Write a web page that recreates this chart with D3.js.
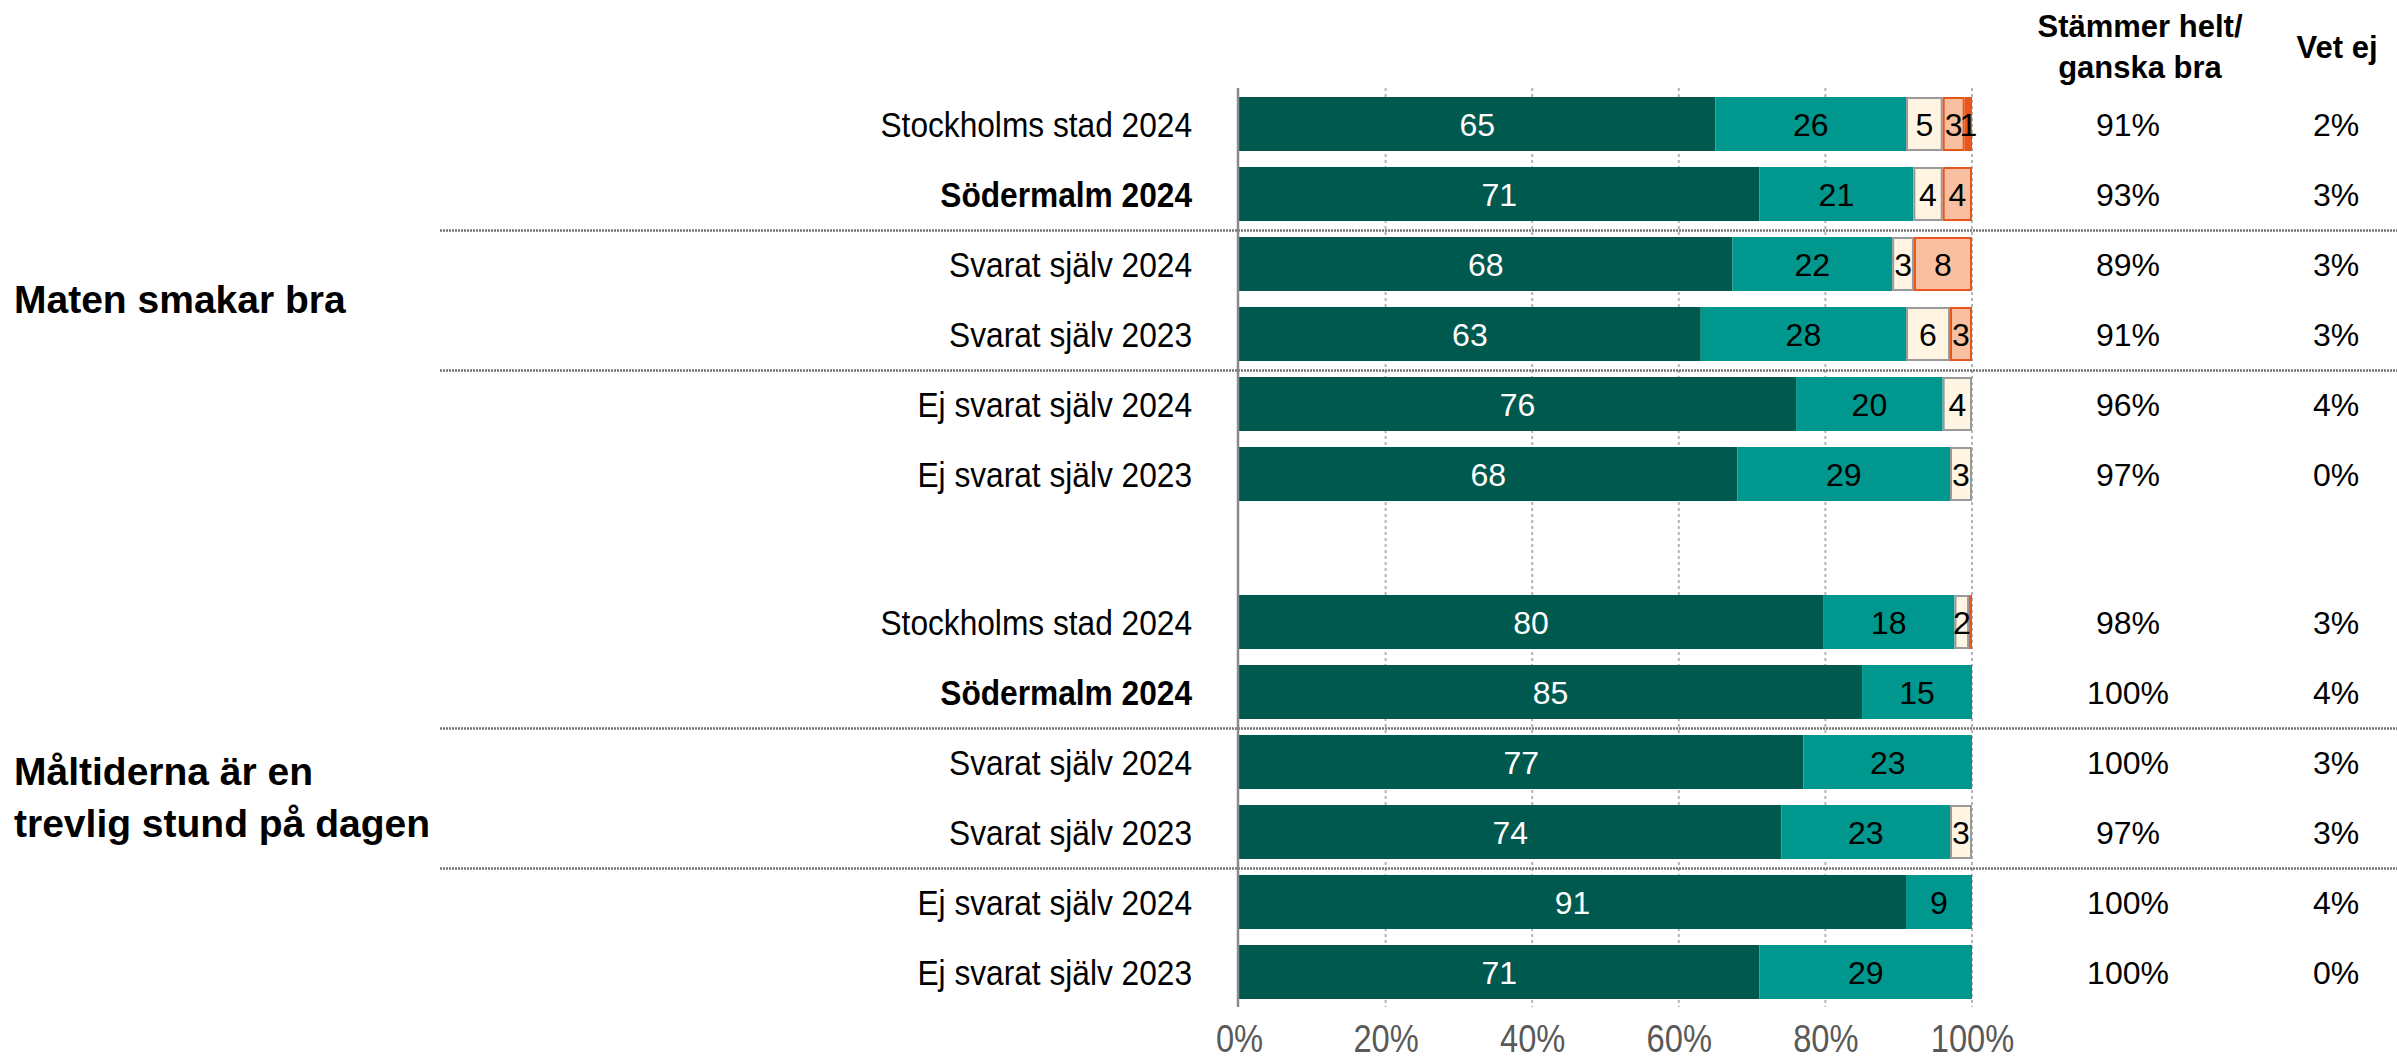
<!DOCTYPE html>
<html>
<head>
<meta charset="utf-8">
<script src="https://cdn.jsdelivr.net/npm/d3@7"></script>
<style>
  html, body { margin: 0; padding: 0; background: #fff; }
  svg { display: block; }
  text { font-family: "Liberation Sans", Arial, sans-serif; }
</style>
</head>
<body>
<svg id="chart" width="2397" height="1060"></svg>
<script>
// Survey groups (rows within each question)
const rowLabels = ["Stockholms stad 2024", "Södermalm 2024", "Svarat själv 2024",
                   "Svarat själv 2023", "Ej svarat själv 2024", "Ej svarat själv 2023"];
const boldRows = ["Södermalm 2024"];

// Questions, with their line breaks
const questions = ["Maten smakar bra", "Måltiderna är en trevlig stund på dagen"];
const questionLines = [["Maten smakar bra"], ["Måltiderna är en", "trevlig stund på dagen"]];

// Answer categories, stacked left to right
const categories = ["Stämmer helt och hållet", "Stämmer ganska bra", "Varken eller",
                    "Stämmer ganska dåligt", "Stämmer inte alls"];

// Percent per category, one value per row (question 1)
const q1Helt    = [65, 71, 68, 63, 76, 68];
const q1Ganska  = [26, 21, 22, 28, 20, 29];
const q1Varken  = [5, 4, 3, 6, 4, 3];
const q1Daligt  = [3, 4, 8, 3, 0, 0];
const q1Inte    = [1, 0, 0, 0, 0, 0];

// Percent per category, one value per row (question 2)
const q2Helt    = [80, 85, 77, 74, 91, 71];
const q2Ganska  = [18, 15, 23, 23, 9, 29];
const q2Varken  = [2, 0, 0, 3, 0, 0];
const q2Daligt  = [0, 0, 0, 0, 0, 0];
const q2Inte    = [0.4, 0, 0, 0, 0, 0];

// Summary columns
const q1Agree = ["91%", "93%", "89%", "91%", "96%", "97%"];
const q2Agree = ["98%", "100%", "100%", "97%", "100%", "100%"];
const q1VetEj = ["2%", "3%", "3%", "3%", "4%", "0%"];
const q2VetEj = ["3%", "4%", "3%", "3%", "4%", "0%"];
const columnHeaders = [["Stämmer helt/", "ganska bra"], ["Vet ej"]];

// Axis ticks
const tickValues = [0, 20, 40, 60, 80, 100];
const tickLabels = ["0%", "20%", "40%", "60%", "80%", "100%"];

const seriesByQuestion = [
  [q1Helt, q1Ganska, q1Varken, q1Daligt, q1Inte],
  [q2Helt, q2Ganska, q2Varken, q2Daligt, q2Inte]
];
const agreeByQuestion = [q1Agree, q2Agree];
const vetEjByQuestion = [q1VetEj, q2VetEj];

const fills   = ["#00594E", "#00988E", "#FFF5E2", "#F8C0A1", "#E8561C"];
const strokes = [null, null, "#9a9a9a", "#E8561C", null];
const labelColors = ["#ffffff", "#000000", "#000000", "#000000", "#000000"];

const svg = d3.select("#chart");

const x = d3.scaleLinear().domain([0, 100]).range([1239, 1972]);
const groupTops = [89, 587];
const rowStep = 70;
const yRow = groupTops.map(top =>
  d3.scaleBand().domain(rowLabels).range([top, top + rowStep * rowLabels.length])
    .paddingInner(0.2286).paddingOuter(0.1143));

const axisTop = 88, axisBottom = 1007;

// Vertical gridlines
svg.append("g").selectAll("line")
  .data(tickValues.filter(v => v > 0))
  .join("line")
  .attr("x1", d => x(d)).attr("x2", d => x(d))
  .attr("y1", axisTop).attr("y2", axisBottom)
  .attr("stroke", "#b4b4b4").attr("stroke-width", 2)
  .attr("stroke-dasharray", "3,3");

// Separators between row blocks
const sepAfter = [1, 3];
questions.forEach((q, qi) => {
  sepAfter.forEach(ri => {
    const y = groupTops[qi] + rowStep * (ri + 1) + 1.5;
    svg.append("line")
      .attr("x1", 440).attr("x2", 2397).attr("y1", y).attr("y2", y)
      .attr("stroke", "#767676").attr("stroke-width", 2.5)
      .attr("stroke-dasharray", "2,1");
  });
});

// Bars
questions.forEach((q, qi) => {
  const series = seriesByQuestion[qi];
  const yb = yRow[qi];
  rowLabels.forEach((row, ri) => {
    const vals = series.map(s => s[ri]);
    const total = d3.sum(vals);
    const scaled = vals.map(v => v * 100 / total);
    let acc = 0;
    const segs = scaled.map((v, ci) => {
      const s = { ci, x0: acc, x1: acc + v, value: vals[ci] };
      acc += v;
      return s;
    }).filter(s => s.value > 0);

    const top = yb(row), h = yb.bandwidth();
    const g = svg.append("g");
    g.selectAll("rect").data(segs).join("rect")
      .attr("x", d => x(d.x0) + (strokes[d.ci] ? 1 : 0))
      .attr("width", d => Math.max(0, x(d.x1) - x(d.x0) - (strokes[d.ci] ? 2 : 0)))
      .attr("y", d => strokes[d.ci] ? top + 1 : top)
      .attr("height", d => strokes[d.ci] ? h - 2 : h)
      .attr("fill", d => fills[d.ci])
      .attr("stroke", d => strokes[d.ci] || "none")
      .attr("stroke-width", d => strokes[d.ci] ? 2 : 0);

    g.selectAll("text").data(segs.filter(d => Math.round(d.value) >= 1)).join("text")
      .attr("x", d => x((d.x0 + d.x1) / 2))
      .attr("y", top + h / 2)
      .attr("dy", "0.36em")
      .attr("text-anchor", "middle")
      .attr("font-size", 32)
      .attr("fill", d => labelColors[d.ci])
      .text(d => Math.round(d.value));

    // Row label (slightly condensed face)
    svg.append("text")
      .attr("transform", `translate(1192,${top + h / 2}) scale(0.88,1)`)
      .attr("dy", "0.36em")
      .attr("text-anchor", "end")
      .attr("font-size", 36)
      .attr("font-weight", boldRows.includes(row) ? "bold" : "normal")
      .attr("fill", "#000")
      .text(row);

    // Summary columns
    svg.append("text")
      .attr("x", 2128).attr("y", top + h / 2)
      .attr("dy", "0.36em").attr("text-anchor", "middle")
      .attr("font-size", 32).attr("fill", "#000")
      .text(agreeByQuestion[qi][ri]);
    svg.append("text")
      .attr("x", 2336).attr("y", top + h / 2)
      .attr("dy", "0.36em").attr("text-anchor", "middle")
      .attr("font-size", 32).attr("fill", "#000")
      .text(vetEjByQuestion[qi][ri]);
  });

  // Question heading, centred on its block
  const mid = (yb(rowLabels[0]) + yb(rowLabels[rowLabels.length - 1]) + yb.bandwidth()) / 2;
  const lines = questionLines[qi];
  const lh = 52;
  lines.forEach((ln, li) => {
    svg.append("text")
      .attr("x", 14)
      .attr("y", mid + (li - (lines.length - 1) / 2) * lh)
      .attr("dy", "0.36em")
      .attr("font-size", 39).attr("font-weight", "bold").attr("fill", "#000")
      .text(ln);
  });
});

// Left axis line
svg.append("line")
  .attr("x1", x(0) - 1).attr("x2", x(0) - 1)
  .attr("y1", axisTop).attr("y2", axisBottom)
  .attr("stroke", "#8a8a8a").attr("stroke-width", 2.5);

// Bottom axis labels (condensed)
const xAxis = d3.axisBottom(x).tickValues(tickValues)
  .tickFormat((d, i) => tickLabels[i]).tickSize(0).tickPadding(0);
const ax = svg.append("g").attr("transform", `translate(0,${axisBottom})`).call(xAxis);
ax.select(".domain").remove();
ax.selectAll(".tick text")
  .attr("font-family", "'Liberation Sans', Arial, sans-serif")
  .attr("font-size", 38)
  .attr("fill", "#595959")
  .attr("x", 0)
  .attr("y", 45)
  .attr("dy", null)
  .attr("transform", "scale(0.86,1)");

// Column headers
columnHeaders.forEach((lines, ci) => {
  const cx = ci === 0 ? 2140 : 2337;
  const ys = ci === 0 ? [26, 67] : [47];
  lines.forEach((ln, li) => {
    svg.append("text")
      .attr("x", cx).attr("y", ys[li]).attr("dy", "0.36em")
      .attr("text-anchor", "middle")
      .attr("font-size", 31).attr("font-weight", "bold").attr("fill", "#000")
      .text(ln);
  });
});
</script>
</body>
</html>
